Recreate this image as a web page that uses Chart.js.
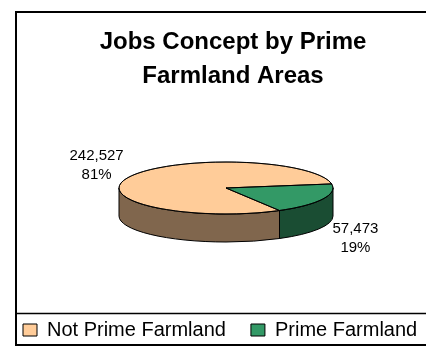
<!DOCTYPE html>
<html>
<head>
<meta charset="utf-8">
<script src="https://cdn.jsdelivr.net/npm/chart.js@4"></script>
<style>
  html, body { margin: 0; padding: 0; background: #fff; overflow: hidden; }
  #frame { position: absolute; left: 15px; top: 11px; width: 451px; height: 331px; border: 2px solid #000; overflow: hidden; }
  canvas { display: block; }
</style>
</head>
<body>
<div id="frame"><canvas id="chartCanvas" width="451" height="331"></canvas></div>
<script>
const categories = ['Not Prime Farmland', 'Prime Farmland'];
const jobs = [242527, 57473];
const topColors = ['#FFCC99', '#339966'];
const sideColors = ['#80664D', '#1A4D33'];

const FONT = '"Liberation Sans", Arial, sans-serif';

// flattened pie: squash of the top face, side height, offset of the pie
const TILT = 0.243;
const DEPTH = 28;
const SHIFT = { x: -16.5, y: -11 };

function pieFrame(chart) {
    const arcs = chart.getDatasetMeta(0).data;
    const a = arcs[0];
    return {
        arcs: arcs,
        cx: a.x, cy: a.y,
        X: a.x + SHIFT.x, Y: a.y + SHIFT.y,
        rx: a.outerRadius, ry: a.outerRadius * TILT
    };
}

const pie3d = {
    id: 'pie3d',
    beforeDatasetsDraw(chart) {
        const ctx = chart.ctx;
        const f = pieFrame(chart);
        ctx.save();
        ctx.lineWidth = 1;
        ctx.strokeStyle = '#000';
        // side walls, only the front half is visible
        f.arcs.forEach((arc, i) => {
            for (let n = -1; n <= 1; n++) {
                const lo = Math.max(arc.startAngle, n * 2 * Math.PI);
                const hi = Math.min(arc.endAngle, n * 2 * Math.PI + Math.PI);
                if (hi <= lo) continue;
                ctx.beginPath();
                ctx.ellipse(f.X, f.Y, f.rx, f.ry, 0, lo, hi);
                ctx.ellipse(f.X, f.Y + DEPTH, f.rx, f.ry, 0, hi, lo, true);
                ctx.closePath();
                ctx.fillStyle = sideColors[i];
                ctx.fill();
                ctx.stroke();
            }
        });
        // the top face gets drawn by Chart.js squashed into an ellipse
        ctx.translate(f.X, f.Y);
        ctx.scale(1, TILT);
        ctx.translate(-f.cx, -f.cy);
    },
    afterDatasetsDraw(chart) {
        const ctx = chart.ctx;
        ctx.restore();
        const f = pieFrame(chart);
        ctx.save();
        ctx.lineWidth = 1;
        ctx.strokeStyle = '#000';
        ctx.beginPath();
        ctx.ellipse(f.X, f.Y, f.rx, f.ry, 0, 0, 2 * Math.PI);
        ctx.stroke();
        f.arcs.forEach(arc => {
            ctx.beginPath();
            ctx.moveTo(f.X, f.Y);
            ctx.lineTo(f.X + f.rx * Math.cos(arc.startAngle), f.Y + f.ry * Math.sin(arc.startAngle));
            ctx.stroke();
        });

        // value and percent labels outside the slices
        const total = jobs.reduce((s, v) => s + v, 0);
        ctx.fillStyle = '#000';
        ctx.font = '15px ' + FONT;
        ctx.textAlign = 'center';
        ctx.textBaseline = 'middle';
        f.arcs.forEach((arc, i) => {
            const mid = (arc.startAngle + arc.endAngle) / 2;
            const s = Math.sin(mid);
            const x = f.X + 1.34 * f.rx * Math.cos(mid);
            const y = f.Y + 2 * f.ry * s + (s > 0 ? DEPTH : 0);
            ctx.fillText(jobs[i].toLocaleString('en-US'), x, y - 9.5);
            ctx.fillText(Math.round(jobs[i] / total * 100) + '%', x, y + 9.5);
        });
        ctx.restore();
    },
    afterDraw(chart) {
        // rule above the legend
        const ctx = chart.ctx;
        const y = chart.legend.bottom - 36.5;
        ctx.save();
        ctx.strokeStyle = '#000';
        ctx.lineWidth = 1.5;
        ctx.beginPath();
        ctx.moveTo(0, y);
        ctx.lineTo(chart.width, y);
        ctx.stroke();
        ctx.restore();
    }
};

const ctx = document.getElementById('chartCanvas').getContext('2d');

new Chart(ctx, {
    type: 'pie',
    data: {
        labels: categories,
        datasets: [{
            data: jobs,
            backgroundColor: topColors,
            borderColor: '#000',
            borderWidth: 1,
            radius: 107,
            clip: false
        }]
    },
    options: {
        responsive: false,
        animation: false,
        rotation: 150,
        layout: { padding: { left: -19, bottom: -6 } },
        plugins: {
            title: {
                display: true,
                text: ['Jobs Concept by Prime', 'Farmland Areas'],
                color: '#000',
                font: { family: FONT, size: 24, weight: 'bold', lineHeight: '34px' },
                padding: { top: 12, bottom: 10 }
            },
            legend: {
                position: 'bottom',
                align: 'start',
                labels: {
                    color: '#000',
                    font: { family: FONT, size: 20 },
                    boxWidth: 14,
                    boxHeight: 12,
                    padding: 25
                }
            },
            tooltip: { enabled: false }
        }
    },
    plugins: [pie3d]
});
</script>
</body>
</html>
